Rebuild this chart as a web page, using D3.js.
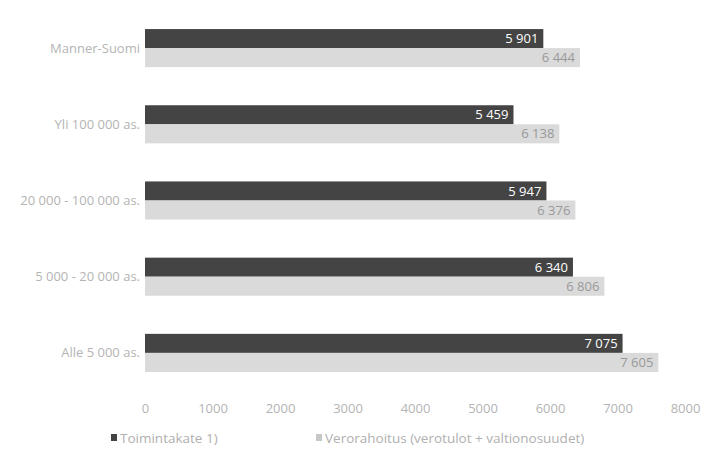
<!DOCTYPE html>
<html><head><meta charset="utf-8">
<script src="https://cdn.jsdelivr.net/npm/d3@7"></script>
<style>body{margin:0;background:#fff}svg{display:block}text{font-family:"Open Sans","Noto Sans",sans-serif}</style>
</head><body>
<svg id="c" width="713" height="451"></svg>
<script>
const categories = ["Manner-Suomi","Yli 100 000 as.","20 000 - 100 000 as.","5 000 - 20 000 as.","Alle 5 000 as."];
const toimintakate = [5901, 5459, 5947, 6340, 7075];
const verorahoitus = [6444, 6138, 6376, 6806, 7605];
const seriesNames = ["Toimintakate 1)", "Verorahoitus (verotulot + valtionosuudet)"];
const xTicks = [0,1000,2000,3000,4000,5000,6000,7000,8000];

const svg = d3.select("#c");
const x = d3.scaleLinear().domain([0,8000]).range([145,685]);
const y = d3.scaleBand().domain(categories).range([10,391]).paddingInner(0.5).paddingOuter(0.25);
const sub = d3.scaleBand().domain([0,1]).range([0,y.bandwidth()]);
const colors = ["#444444","#dadada"];
const fmt = v => d3.format(",")(v).replace(/,/g," ");
const series = [toimintakate, verorahoitus];

categories.forEach((c,i)=>{
  series.forEach((s,j)=>{
    const y0 = y(c)+sub(j);
    svg.append("rect").attr("x",x(0)).attr("y",y0).attr("width",x(s[i])-x(0)).attr("height",sub.bandwidth()).attr("fill",colors[j]);
    svg.append("text").attr("x",x(s[i])-5).attr("y",y0+sub.bandwidth()/2).attr("dy","0.35em")
      .attr("text-anchor","end").attr("font-size",13)
      .attr("fill", j===0?"#ffffff":"#999999").text(fmt(s[i]));
  });
  svg.append("text").attr("x",140).attr("y",y(c)+y.bandwidth()/2).attr("dy","0.35em")
    .attr("text-anchor","end").attr("font-size",13).attr("fill","#b4b4b4").text(c);
});

const ax = svg.append("g").attr("transform","translate(0,402)")
  .call(d3.axisBottom(x).tickValues(xTicks).tickFormat(d=>String(d)).tickSize(0).tickPadding(2));
ax.select(".domain").remove();
ax.selectAll("text").attr("font-size",13).attr("fill","#b4b4b4").attr("font-family","'Open Sans','Noto Sans',sans-serif");

const legX = [111, 316];
seriesNames.forEach((n,j)=>{
  svg.append("rect").attr("x",legX[j]).attr("y",434).attr("width",6).attr("height",7).attr("fill", j===0?"#444444":"#c8c8c8");
  svg.append("text").attr("x",legX[j]+9).attr("y",438).attr("dy","0.35em").attr("font-size",13.5).attr("fill","#b0b0b0").text(n);
});
</script>
</body></html>
